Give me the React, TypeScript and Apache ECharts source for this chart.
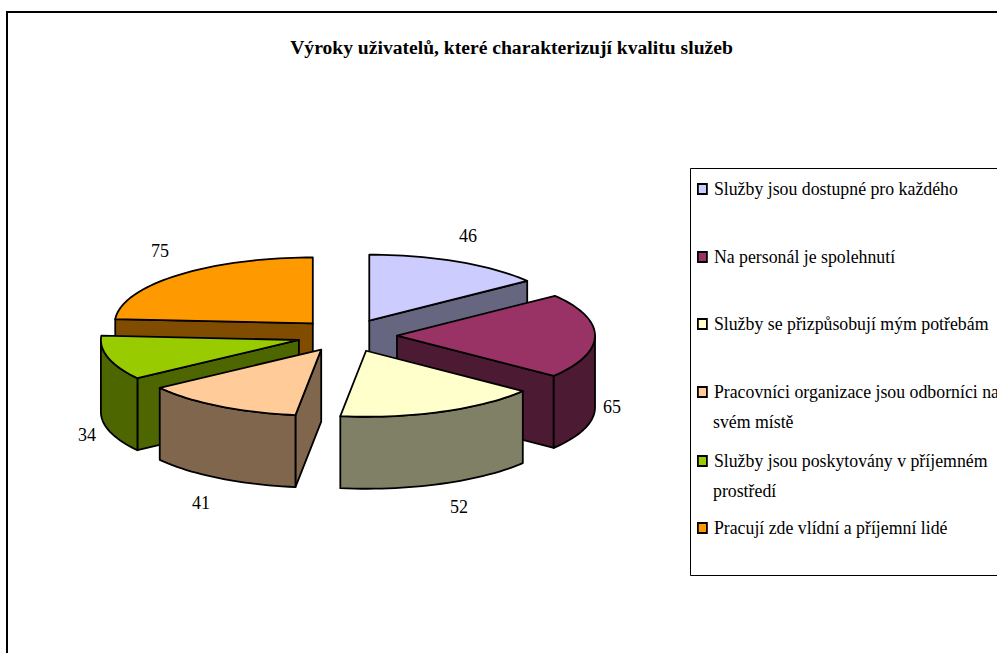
import React, { useEffect, useRef } from "react";
import * as echarts from "echarts";

const chartTitle = "Výroky uživatelů, které charakterizují kvalitu služeb";
const categories = [
  "Služby jsou dostupné pro každého",
  "Na personál je spolehnutí",
  "Služby se přizpůsobují mým potřebám",
  "Pracovníci organizace jsou odborníci na\nsvém místě",
  "Služby jsou poskytovány v příjemném\nprostředí",
  "Pracují zde vlídní a příjemní lidé",
];
const values = [46, 65, 52, 41, 34, 75];
const topColors = ["#CCCCFF", "#993366", "#FFFFCC", "#FFCC99", "#99CC00", "#FF9900"];
const sideColors = ["#666680", "#4D1A33", "#808066", "#80664D", "#4D6600", "#804D00"];
const drawOrder = [2, 3, 4, 6, 5, 1]; // z per slice, back to front
const labelCentres = [
  [468, 236],
  [612, 407],
  [459, 507],
  [201, 503],
  [87, 435],
  [160, 251],
];
const legendRows = [189, 257, 324, 392, 461, 528];
const legendContinuationRows = [0, 0, 0, 422, 491, 0];

const FONT = "'Liberation Serif', 'Times New Roman', serif";
const CX = 347;
const CY = 335.5;
const RX = 198;
const RY = 66;
const DEPTH = 72;
const EXPLODE = 50;
const EXPLODE_Y = 0.33;
const LEGEND_FONT = 17.8;
const STROKE = { stroke: "#000", lineWidth: 1.8, lineJoin: "round" };

const total = values.reduce((a, b) => a + b, 0);
const rad = (d: number) => (d * Math.PI) / 180;

function renderSlice(index: number) {
  return (_params: any, api: any) => {
    const value = api.value(0);
    const before = values.slice(0, index).reduce((a, b) => a + b, 0);
    const a0 = (before / total) * 360;
    const a1 = a0 + (value / total) * 360;
    const mid = (a0 + a1) / 2;
    const ax = CX + EXPLODE * Math.sin(rad(mid));
    const ay = CY - EXPLODE * EXPLODE_Y * Math.cos(rad(mid));
    const at = (a: number): number[] => [ax + RX * Math.sin(rad(a)), ay - RY * Math.cos(rad(a))];
    const down = (p: number[]): number[] => [p[0], p[1] + DEPTH];
    const arc = (from: number, to: number) => {
      const pts: number[][] = [];
      const n = Math.max(2, Math.ceil((to - from) / 2));
      for (let i = 0; i <= n; i++) pts.push(at(from + ((to - from) * i) / n));
      return pts;
    };
    const children: any[] = [];
    const wall = (points: number[][]) =>
      children.push({
        type: "polygon",
        shape: { points },
        style: { fill: sideColors[index], ...STROKE },
      });
    const apex = [ax, ay];
    if (Math.sin(rad(a0)) < -1e-6) wall([apex, at(a0), down(at(a0)), down(apex)]);
    if (Math.sin(rad(a1)) > 1e-6) wall([apex, at(a1), down(at(a1)), down(apex)]);
    const w0 = Math.max(a0, 90);
    const w1 = Math.min(a1, 270);
    if (w1 > w0) {
      const top = arc(w0, w1);
      wall([...top, ...top.slice().reverse().map(down)]);
    }
    children.push({
      type: "polygon",
      shape: { points: [apex, ...arc(a0, a1)] },
      style: { fill: topColors[index], ...STROKE },
    });
    children.push({
      type: "text",
      style: {
        text: String(value),
        x: labelCentres[index][0],
        y: labelCentres[index][1],
        fill: "#000",
        fontFamily: FONT,
        fontSize: 18,
        textAlign: "center",
        textVerticalAlign: "middle",
      },
    });
    return { type: "group", children };
  };
}

export default function App() {
  const ref = useRef<HTMLDivElement>(null);
  useEffect(() => {
    document.body.style.margin = "0";
    document.body.style.overflow = "hidden";
    const chart = echarts.init(ref.current!, null, { renderer: "svg" });
    const continuation = categories
      .map((name, i) => ({ line: name.split("\n")[1], y: legendContinuationRows[i] }))
      .filter((c) => c.line)
      .map((c) => ({
        type: "text",
        z: 10,
        style: {
          text: c.line,
          x: 713,
          y: c.y,
          fill: "#000",
          fontFamily: FONT,
          fontSize: LEGEND_FONT,
          textVerticalAlign: "middle",
        },
      }));
    chart.setOption({
      animation: false,
      backgroundColor: "#fff",
      title: {
        text: chartTitle,
        left: 506.5,
        top: 32,
        textAlign: "center",
        textStyle: { fontFamily: FONT, fontSize: 19.6, fontWeight: "bold", color: "#000" },
      },
      legend: categories.map((name, i) => ({
        data: [name],
        orient: "vertical",
        left: 697,
        top: legendRows[i] - 15,
        icon: "rect",
        itemWidth: 9,
        itemHeight: 10,
        itemGap: 0,
        padding: 0,
        selectedMode: false,
        formatter: (n: string) => n.split("\n")[0],
        itemStyle: { borderColor: "#000", borderWidth: 1.8 },
        textStyle: {
          fontFamily: FONT,
          fontSize: LEGEND_FONT,
          color: "#000",
          lineHeight: 30,
          padding: [0, 0, 0, 2],
        },
      })),
      graphic: [
        {
          type: "rect",
          z: -10,
          shape: { x: 7, y: 12, width: 1100, height: 800 },
          style: { fill: "#fff", stroke: "#000", lineWidth: 2 },
        },
        {
          type: "rect",
          z: -9,
          shape: { x: 690.5, y: 168.5, width: 400, height: 407 },
          style: { fill: "#fff", stroke: "#000", lineWidth: 1 },
        },
        ...continuation,
      ],
      series: categories.map((name, i) => ({
        type: "custom",
        name,
        coordinateSystem: "none",
        z: drawOrder[i],
        itemStyle: { color: topColors[i] },
        renderItem: renderSlice(i),
        data: [[values[i]]],
        silent: true,
      })),
    });
    return () => chart.dispose();
  }, []);
  return <div ref={ref} style={{ width: 997, height: 653 }} />;
}
